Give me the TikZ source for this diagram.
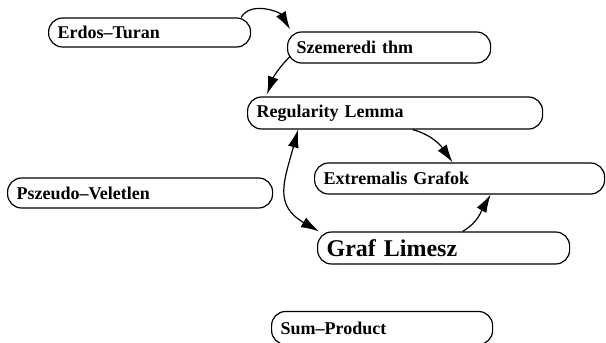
\documentclass[tikz,border=0pt]{standalone}
\usepackage{fontspec}
\setmainfont{Liberation Serif}
\usetikzlibrary{arrows.meta}
\begin{document}
\begin{tikzpicture}[x=1pt,y=1pt,line width=1.2pt,
	topic/.style={draw,rounded corners=14pt,anchor=west,minimum height=30pt,inner xsep=9pt,inner ysep=0pt,align=left,font=\bfseries\fontsize{18}{20}\selectfont},
	big/.style={font=\bfseries\fontsize{24}{26}\selectfont},
	tip/.style={Latex[length=18pt,width=11pt]},
	link/.style={-{Latex[length=18pt,width=11pt]}}]
		\useasboundingbox (0,0) rectangle (606,-343);
		\node (et) at (48,-32.5) [topic,minimum height=29pt,text width=184pt] {Erdos--Turan};
		\node (sz) at (287,-47.5) [topic,minimum height=31pt,text width=185pt] {Szemeredi thm};
		\node (rl) at (247,-113) [topic,minimum height=32pt,text width=277pt] {Regularity Lemma};
		\node (eg) at (314,-178.5) [topic,minimum height=31pt,text width=272pt] {Extremalis Grafok};
		\node (gl) at (317,-248) [topic,big,minimum height=32pt,text width=234pt] {Graf Limesz};
		\node (pv) at (7,-193) [topic,text width=247pt] {Pszeudo--Veletlen};
		\node (sp) at (271,-328) [topic,minimum height=33pt,text width=203pt] {Sum--Product};
		\draw[link] ([xshift=-10pt]et.north east) to[out=60,in=120] ([xshift=3pt,yshift=2pt]sz.north west);
		\draw[link] ([xshift=3pt,yshift=-9pt]sz.west) to[out=-135,in=70] ([xshift=20pt,yshift=2pt]rl.north west);
		\draw[link] ([xshift=17.5pt]rl.south) to[out=-15,in=125] ([xshift=-7pt]eg.north);
		\draw[link] ([xshift=19pt]gl.north) to[out=30,in=-120] ([xshift=31pt]eg.south);
		\draw[{Latex[length=18pt,width=11pt]}-{Latex[length=18pt,width=11pt]}] ([xshift=51pt]rl.south west) to[out=-105,in=150,looseness=1.3] ([xshift=2pt]gl.north west);
	\end{tikzpicture}
\end{document}
